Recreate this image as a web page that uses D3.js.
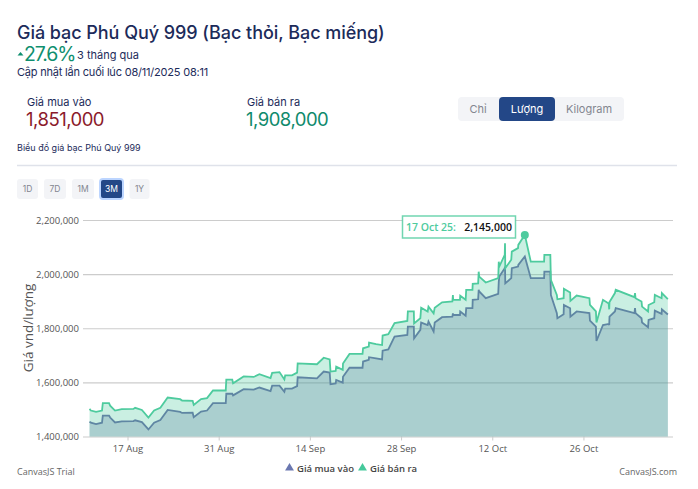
<!DOCTYPE html>
<html>
<head>
<meta charset="utf-8">
<script src="https://cdnjs.cloudflare.com/ajax/libs/d3/7.8.5/d3.min.js"></script>
<style>
  html, body { margin: 0; padding: 0; background: #fff; }
  svg { display: block; }
  .head { font-family: "Inter", sans-serif; fill: #1c2b5a; }
  .chart text { font-family: "Open Sans", sans-serif; }
</style>
</head>
<body>
<script>
// chart values
var dates = ["08-11 04","08-11 09","08-12 04","08-13 02","08-13 05","08-14 04","08-14 08","08-15 02","08-16 03","08-17 22","08-18 04","08-19 05","08-20 05","08-21 02","08-22 01","08-23 04","08-25 02","08-25 09","08-27 00","08-27 04","08-28 07","08-29 05","08-30 03","09-01 02","09-01 04","09-02 02","09-02 05","09-03 20","09-05 09","09-06 06","09-07 23","09-08 05","09-09 08","09-10 02","09-10 05","09-11 06","09-12 01","09-12 03","09-15 02","09-16 03","09-17 01","09-17 04","09-17 23","09-18 01","09-19 01","09-19 02","09-20 02","09-22 02","09-22 04","09-23 01","09-23 02","09-24 04","09-25 02","09-25 04","09-26 01","09-27 00","09-28 23","09-29 01","09-29 23","09-30 00","09-30 23","10-01 02","10-02 02","10-02 05","10-03 00","10-03 04","10-04 07","10-05 21","10-05 23","10-06 00","10-07 01","10-07 02","10-07 22","10-08 00","10-08 23","10-09 00","10-09 20","10-09 22","10-10 00","10-11 00","10-12 22","10-13 00","10-13 02","10-13 22","10-13 23","10-14 00","10-14 22","10-15 00","10-15 23","10-16 00","10-17 00","10-17 22","10-19 23","10-20 00","10-20 22","10-21 00","10-21 22","10-22 00","10-22 23","10-23 00","10-23 23","10-24 00","10-24 23","10-26 22","10-27 00","10-27 22","10-28 00","10-29 00","10-29 21","10-29 23","10-30 00","10-30 20","10-30 23","11-02 20","11-02 22","11-03 00","11-03 22","11-04 00","11-04 22","11-05 00","11-05 21","11-05 23","11-07 00","11-07 01","11-07 23"];
var buyPrices = [1455,1451,1446,1451,1477,1477,1470,1452,1456,1457,1460,1453,1426,1451,1461,1498,1491,1487,1488,1471,1492,1496,1523,1523,1558,1558,1552,1575,1573,1581,1568,1588,1588,1565,1577,1577,1586,1619,1615,1640,1636,1593,1596,1609,1599,1621,1654,1654,1677,1683,1693,1689,1685,1717,1722,1769,1775,1806,1806,1763,1794,1821,1812,1825,1788,1821,1841,1843,1855,1849,1849,1862,1846,1874,1874,1905,1907,1942,1936,1911,1927,1972,1991,2022,2028,1966,1985,2022,2028,2034,2065,1985,1985,2009,2009,1923,1856,1837,1852,1886,1874,1843,1862,1856,1828,1806,1753,1812,1816,1812,1843,1862,1874,1856,1874,1856,1837,1821,1804,1831,1837,1865,1853,1870,1851];
var sellPrices = [1502,1496,1491,1496,1523,1523,1514,1496,1501,1502,1506,1498,1470,1496,1506,1544,1538,1533,1532,1517,1538,1542,1570,1570,1610,1610,1597,1622,1620,1630,1616,1635,1638,1611,1626,1626,1636,1670,1667,1691,1685,1640,1642,1658,1646,1670,1705,1705,1726,1732,1747,1741,1738,1773,1778,1819,1827,1862,1862,1818,1837,1876,1862,1880,1855,1876,1896,1899,1923,1905,1905,1920,1905,1942,1942,1964,1966,2009,1991,1969,1985,2046,2028,2071,2114,2022,2053,2083,2096,2108,2145,2046,2046,2071,2071,1979,1923,1907,1911,1946,1932,1901,1921,1911,1886,1862,1821,1905,1891,1870,1897,1930,1942,1915,1930,1911,1899,1880,1862,1886,1896,1923,1911,1930,1908];
var yTicks = [1400000, 1600000, 1800000, 2000000, 2200000];
var xTickDates = ["08-17 00","08-31 00","09-14 00","09-28 00","10-12 00","10-26 00"];
var unitLabels = ["Chỉ", "Lượng", "Kilogram"];
var rangeLabels = ["1D", "7D", "1M", "3M", "1Y"];
var peakIndex = sellPrices.indexOf(d3.max(sellPrices));

var parseDate = function(s) { return d3.utcParse("%Y-%m-%d %H")("2025-" + s); };
var points = dates.map(function(d, i) {
  return { date: parseDate(d), buy: buyPrices[i] * 1000, sell: sellPrices[i] * 1000 };
});

var svg = d3.select("body").append("svg").attr("width", 698).attr("height", 489);

//-------- page header --------
var addText = function(x, y, str, size, color, extra) {
  var t = svg.append("text").attr("class", "head").attr("x", x).attr("y", y)
    .attr("font-size", size).style("fill", color || "#1c2b5a").text(str);
  if (extra) t.attr("font-weight", extra);
  return t;
};
addText(17, 39, "Giá bạc Phú Quý 999 (Bạc thỏi, Bạc miếng)", 18, null, 500).attr("letter-spacing", -0.05);
svg.append("path").attr("d", "M17.5 55.5 L20.5 52 L23.5 55.5 Z").attr("fill", "#0f8f6f");
addText(24, 60.5, "27.6%", 19.5, "#0f8f6f").attr("letter-spacing", -1.1);
addText(77, 59, "3 tháng qua", 11);
addText(17, 76, "Cập nhật lần cuối lúc 08/11/2025 08:11", 11).attr("letter-spacing", -0.2);
addText(27, 106, "Giá mua vào", 11);
addText(26, 126, "1,851,000", 18.5, "#8b1a2b").attr("letter-spacing", -0.5);
addText(247, 106, "Giá bán ra", 11);
addText(246, 126, "1,908,000", 18.5, "#0f8a6c").attr("letter-spacing", -0.5);
addText(17, 151, "Biểu đồ giá bạc Phú Quý 999", 9);
svg.append("line").attr("x1", 17).attr("x2", 677).attr("y1", 165.5).attr("y2", 165.5)
  .attr("stroke", "#dfe2ea").attr("stroke-width", 1.5);

// unit buttons
svg.append("rect").attr("x", 458).attr("y", 97).attr("width", 166).attr("height", 24).attr("rx", 4).attr("fill", "#f3f4f7");
svg.append("rect").attr("x", 499).attr("y", 97).attr("width", 56).attr("height", 24).attr("rx", 4).attr("fill", "#234787");
var unitCenters = [478, 527, 589];
unitLabels.forEach(function(u, i) {
  addText(unitCenters[i], 112.5, u, 11, i == 1 ? "#fff" : "#83868f").attr("text-anchor", "middle");
});

// range buttons
var rangeLeft = [17, 44, 72, 100, 129.5];
var rangeWidth = [21, 22, 22, 23, 20];
rangeLabels.forEach(function(r, i) {
  var active = i == 3;
  svg.append("rect").attr("x", rangeLeft[i]).attr("y", 179).attr("width", rangeWidth[i]).attr("height", 20).attr("rx", 3)
    .attr("fill", active ? "#234787" : "#f3f4f7")
    .attr("stroke", active ? "#bcd5ff" : "none").attr("stroke-width", 2);
  addText(rangeLeft[i] + rangeWidth[i] / 2, 192, r, 8.5, active ? "#fff" : "#83868f").attr("text-anchor", "middle");
});

//-------- chart --------
var chart = svg.append("g").attr("class", "chart");
var x = d3.scaleUtc().domain([d3.utcParse("%Y-%m-%d %H")("2025-08-10 04"), d3.utcParse("%Y-%m-%d %H")("2025-11-08 18")]).range([83, 673]);
var y = d3.scaleLinear().domain([1400000, 2200000]).range([436.5, 220]);

var yAxis = d3.axisLeft(y).tickValues(yTicks).tickFormat(d3.format(",")).tickSize(0).tickPadding(4);
var yG = chart.append("g").attr("transform", "translate(83,0)").call(yAxis);
yG.select(".domain").remove();
yG.selectAll("text").attr("font-size", 9.5).attr("fill", "#555");
yG.selectAll(".tick line").attr("x2", 590).attr("stroke", "#ccc").attr("stroke-width", 1.2);

var xAxis = d3.axisBottom(x).tickValues(xTickDates.map(parseDate)).tickFormat(d3.utcFormat("%d %b")).tickSize(4).tickPadding(5);
var xG = chart.append("g").attr("transform", "translate(0,436.5)").call(xAxis);
xG.select(".domain").remove();
xG.selectAll("text").attr("font-size", 9.5).attr("fill", "#555");
xG.selectAll(".tick line").attr("stroke", "#ccc");

chart.append("text").attr("transform", "translate(33,328) rotate(-90)").attr("text-anchor", "middle")
  .attr("font-size", 13.5).attr("fill", "#555").text("Giá vnd/lượng");

var sellColor = "#4ecb9e", buyColor = "#5f86a3";
var area = function(key) {
  return d3.area().x(function(d) { return x(d.date); }).y0(y(1400000)).y1(function(d) { return y(d[key]); });
};
var line = function(key) {
  return d3.line().x(function(d) { return x(d.date); }).y(function(d) { return y(d[key]); });
};
chart.append("path").datum(points).attr("d", area("sell")).attr("fill", sellColor).attr("fill-opacity", 0.3);
chart.append("path").datum(points).attr("d", area("buy")).attr("fill", buyColor).attr("fill-opacity", 0.3);
chart.append("path").datum(points).attr("d", line("buy")).attr("fill", "none").attr("stroke", buyColor).attr("stroke-width", 1.8);
chart.append("path").datum(points).attr("d", line("sell")).attr("fill", "none").attr("stroke", sellColor).attr("stroke-width", 1.8);

// hover marker and tooltip
var peak = points[peakIndex];
chart.append("circle").attr("cx", x(peak.date)).attr("cy", y(peak.sell)).attr("r", 4).attr("fill", sellColor);
chart.append("rect").attr("x", 402.5).attr("y", 216).attr("width", 113).attr("height", 22)
  .attr("fill", "#fff").attr("stroke", sellColor).attr("stroke-width", 1.5).attr("stroke-opacity", 0.8);
chart.append("text").attr("x", 406).attr("y", 231).attr("font-size", 10.5).attr("font-weight", 600).attr("fill", sellColor)
  .text(d3.utcFormat("%d %b %y")(peak.date) + ":");
chart.append("text").attr("x", 512).attr("y", 231).attr("text-anchor", "end").attr("font-size", 10.5).attr("font-weight", 600).attr("fill", "#111")
  .text(d3.format(",")(peak.sell));

// legend
var legendNames = ["Giá mua vào", "Giá bán ra"];
var legendColors = ["#6a77b0", "#45c99b"];
var legendX = [286, 359];
legendNames.forEach(function(n, i) {
  chart.append("path").attr("d", d3.symbol(d3.symbolTriangle, 34)()).attr("transform", "translate(" + (legendX[i] + 3.5) + ",468)").attr("fill", legendColors[i]);
  chart.append("text").attr("x", legendX[i] + 11).attr("y", 472).attr("font-size", 9.5).attr("font-weight", 600).attr("fill", "#444").text(n);
});
chart.append("text").attr("x", 17).attr("y", 475).attr("font-size", 9).attr("fill", "#666").text("CanvasJS Trial");
chart.append("text").attr("x", 677).attr("y", 475).attr("text-anchor", "end").attr("font-size", 9).attr("fill", "#666").text("CanvasJS.com");
</script>
</body>
</html>
